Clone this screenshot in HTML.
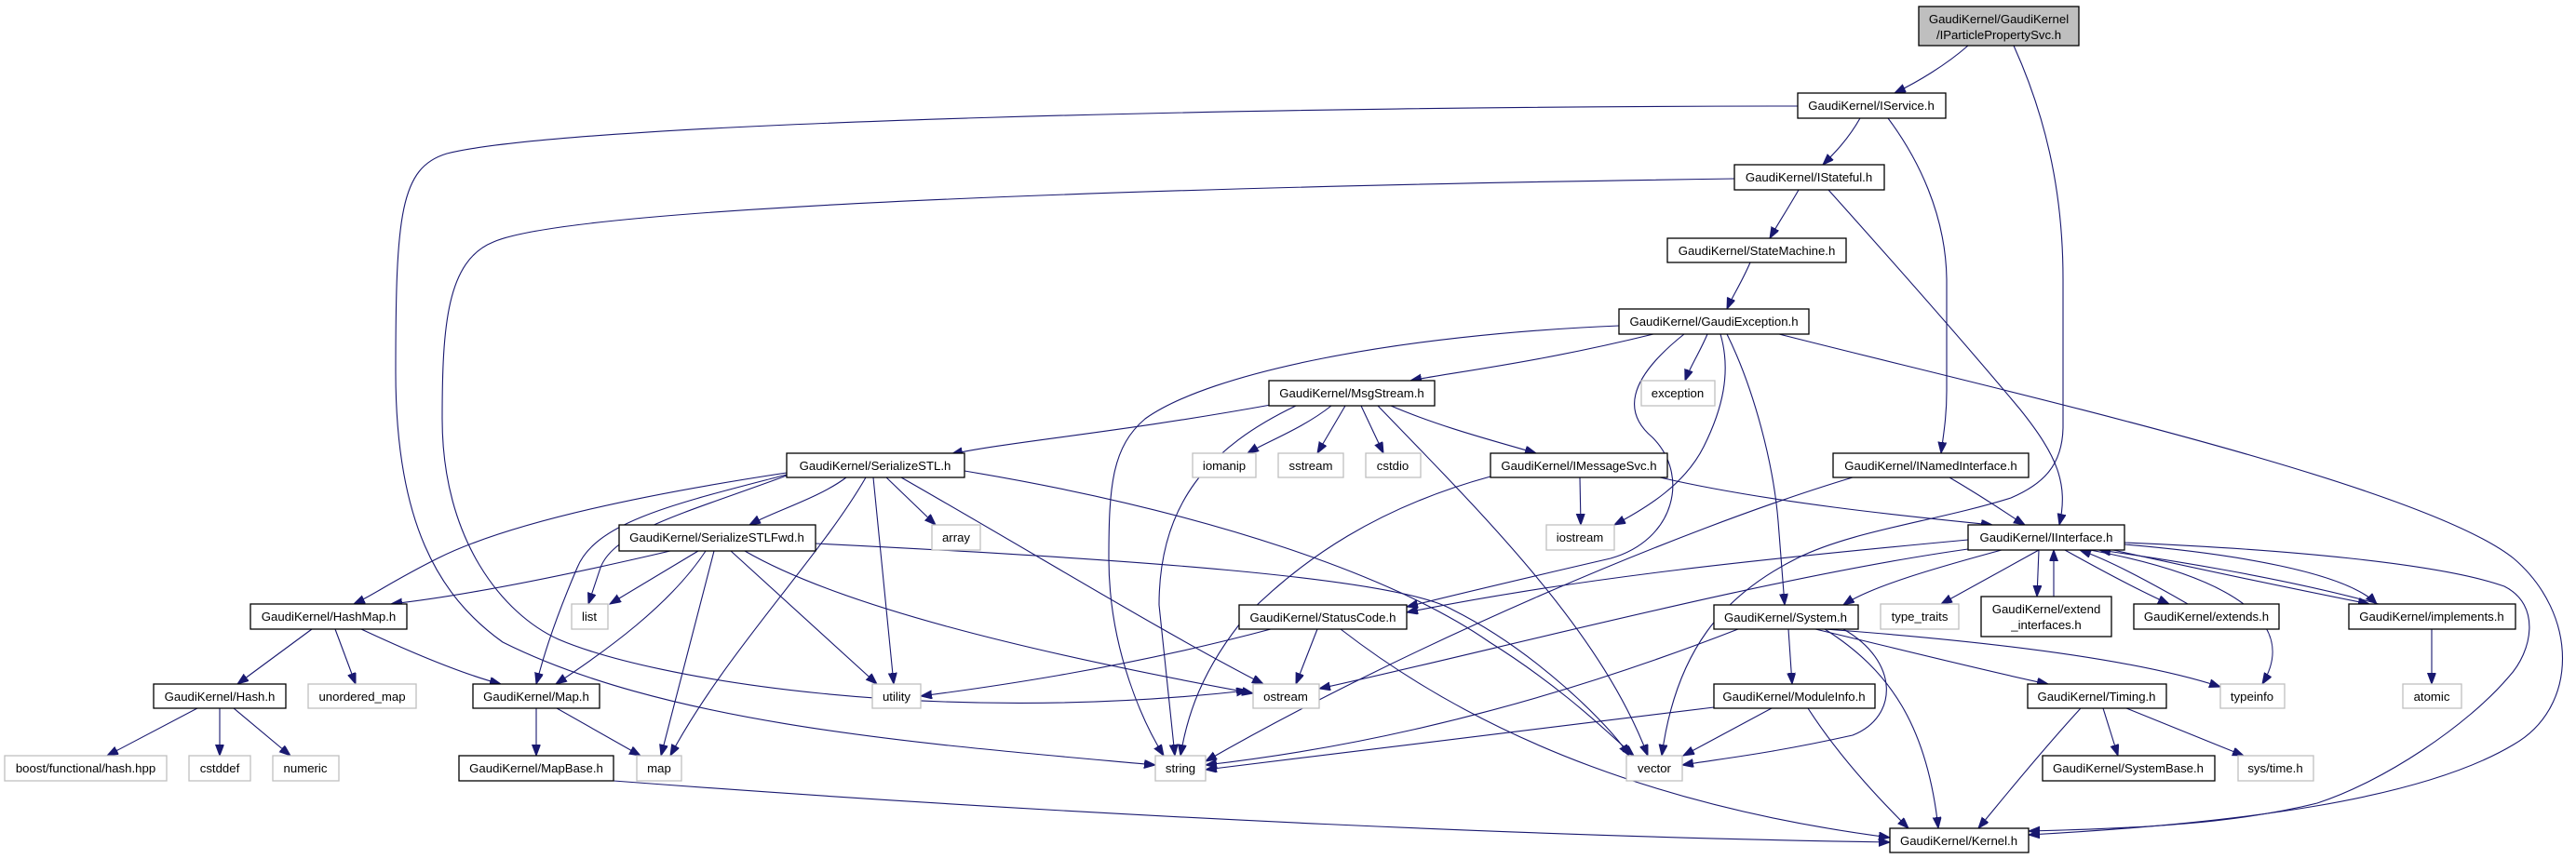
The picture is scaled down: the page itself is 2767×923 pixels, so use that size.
<!DOCTYPE html>
<html><head><meta charset="utf-8"><style>
html,body{margin:0;padding:0;background:#fff;}
svg{display:block;}
text{font-family:"Liberation Sans",Arial,sans-serif;font-size:13.2px;fill:#000;text-anchor:middle;}
.n{fill:#fff;stroke:#000;stroke-width:1.3;}
.g{fill:#fff;stroke:#bfbfbf;stroke-width:1.3;}
.e{fill:none;stroke:#191970;stroke-width:1.1;marker-end:url(#a);}
</style></head><body>
<svg width="2767" height="923" viewBox="0 0 2767 923" xmlns="http://www.w3.org/2000/svg">
<defs><marker id="a" markerUnits="userSpaceOnUse" markerWidth="13" markerHeight="10" refX="12" refY="4.5" orient="auto"><path d="M0,0 L12,4.5 L0,9 z" fill="#191970" stroke="#191970"/></marker></defs>
<g>
<path class="e" d="M2114,49 C2090,70 2060,88 2035,100"/>
<path class="e" d="M2163,49 C2195,120 2216,200 2216,300 L2216,460 C2215,500 2195,520 2160,535 C2080,560 1990,570 1930,600 C1850,640 1800,700 1785,812"/>
<path class="e" d="M1998,127 C1985,150 1970,165 1958,177"/>
<path class="e" d="M2028,127 C2060,170 2090,230 2091,300 L2091,420 C2091,450 2087,470 2085,487"/>
<path class="e" d="M1931,114 C1400,114 620,130 480,165 C430,180 425,230 425,400 C425,560 470,640 540,690 C720,780 1000,800 1241,822"/>
<path class="e" d="M1932,204 C1920,225 1910,240 1901,256"/>
<path class="e" d="M1964,204 C2050,300 2120,380 2170,440 C2210,490 2222,520 2212,564"/>
<path class="e" d="M1863,192 C1300,200 620,220 530,260 C480,280 475,350 475,450 C475,580 540,660 600,687 C700,730 1000,780 1340,742"/>
<path class="e" d="M1880,282 C1870,305 1860,320 1855,332"/>
<path class="e" d="M1739,350 C1500,360 1300,400 1230,450 C1195,480 1191,520 1191,600 C1191,700 1230,780 1250,812"/>
<path class="e" d="M1392,436 C1300,480 1245,540 1245,650 L1262,812"/>
<path class="e" d="M1776,359 C1650,390 1560,400 1515,409"/>
<path class="e" d="M1834,359 C1825,380 1815,395 1810,409"/>
<path class="e" d="M1809,359 C1745,410 1745,445 1775,470 C1815,510 1800,580 1730,600 C1600,630 1560,640 1511,652"/>
<path class="e" d="M1848,359 C1860,400 1850,440 1830,480 C1810,520 1770,545 1734,564"/>
<path class="e" d="M1855,359 C1885,420 1905,500 1910,560 L1917,650"/>
<path class="e" d="M1911,359 C2150,420 2600,520 2700,600 C2770,660 2770,760 2700,800 C2600,860 2400,885 2179,897"/>
<path class="e" d="M1365,435 C1200,465 1080,475 1022,488"/>
<path class="e" d="M1430,436 C1400,460 1360,475 1340,487"/>
<path class="e" d="M1445,436 L1415,487"/>
<path class="e" d="M1462,436 L1486,487"/>
<path class="e" d="M1494,436 C1550,460 1610,475 1650,487"/>
<path class="e" d="M1480,436 C1600,560 1720,680 1770,812"/>
<path class="e" d="M1697,513 L1698,564"/>
<path class="e" d="M1783,513 C1900,540 2050,555 2140,564"/>
<path class="e" d="M1601,512 C1480,545 1400,600 1340,660 C1290,720 1275,770 1268,812"/>
<path class="e" d="M909,513 C880,535 830,550 805,564"/>
<path class="e" d="M845,508 C700,530 550,560 470,600 C420,625 400,640 380,649"/>
<path class="e" d="M845,510 C730,540 640,560 620,610 C590,680 580,720 576,735"/>
<path class="e" d="M845,511 C740,550 660,570 645,610 L632,649"/>
<path class="e" d="M930,513 C880,600 780,700 720,812"/>
<path class="e" d="M938,513 L960,735"/>
<path class="e" d="M952,513 L1005,564"/>
<path class="e" d="M968,513 C1120,600 1250,680 1357,735"/>
<path class="e" d="M1036,506 C1300,550 1500,620 1600,690 C1680,740 1730,790 1755,812"/>
<path class="e" d="M720,592 C600,620 500,640 420,649"/>
<path class="e" d="M750,592 L655,649"/>
<path class="e" d="M758,592 C720,650 650,700 597,735"/>
<path class="e" d="M767,592 L710,812"/>
<path class="e" d="M785,592 L942,735"/>
<path class="e" d="M800,592 C900,650 1100,700 1346,745"/>
<path class="e" d="M876,584 C1200,600 1500,620 1560,655 C1650,700 1730,780 1750,812"/>
<path class="e" d="M335,676 L255,735"/>
<path class="e" d="M360,676 L382,735"/>
<path class="e" d="M388,676 C450,705 500,725 538,735"/>
<path class="e" d="M212,761 L115,812"/>
<path class="e" d="M236,761 L236,812"/>
<path class="e" d="M251,761 L312,812"/>
<path class="e" d="M576,761 L576,812"/>
<path class="e" d="M598,761 L688,812"/>
<path class="e" d="M659,839 C1200,880 1700,900 2030,905"/>
<path class="e" d="M2094,513 C2140,540 2160,555 2175,564"/>
<path class="e" d="M1990,513 C1800,570 1500,700 1295,818"/>
<path class="e" d="M2114,580 C1900,600 1700,620 1511,658"/>
<path class="e" d="M2150,591 C2080,610 2010,630 1980,650"/>
<path class="e" d="M2114,590 C1900,620 1600,700 1417,740"/>
<path class="e" d="M2190,591 L2085,649"/>
<path class="e" d="M2190,591 L2188,641"/>
<path class="e" d="M2206,641 L2206,591"/>
<path class="e" d="M2218,591 C2270,620 2310,640 2330,649"/>
<path class="e" d="M2350,649 C2300,620 2260,600 2234,591"/>
<path class="e" d="M2270,591 C2400,620 2500,640 2545,649"/>
<path class="e" d="M2555,649 C2450,620 2320,600 2255,591"/>
<path class="e" d="M2282,585 C2400,595 2520,615 2553,649"/>
<path class="e" d="M2245,591 C2400,620 2470,670 2430,735"/>
<path class="e" d="M2282,583 C2450,590 2620,605 2690,630 C2730,650 2720,700 2695,727 C2650,780 2560,840 2489,863 C2400,885 2300,890 2179,893"/>
<path class="e" d="M2612,676 L2612,735"/>
<path class="e" d="M1365,676 C1200,720 1050,740 989,748"/>
<path class="e" d="M1415,676 L1392,735"/>
<path class="e" d="M1440,676 C1600,800 1800,870 2030,900"/>
<path class="e" d="M1867,676 C1600,780 1400,810 1295,822"/>
<path class="e" d="M1980,676 C2040,710 2040,770 1990,790 C1900,810 1850,815 1807,822"/>
<path class="e" d="M1921,676 L1925,735"/>
<path class="e" d="M1950,676 C2050,700 2150,725 2200,735"/>
<path class="e" d="M1960,676 C2150,690 2300,710 2385,738"/>
<path class="e" d="M1960,676 C2030,720 2070,780 2082,890"/>
<path class="e" d="M1841,760 C1600,790 1400,815 1295,827"/>
<path class="e" d="M1903,761 L1808,812"/>
<path class="e" d="M1942,761 C1980,820 2030,870 2050,890"/>
<path class="e" d="M2259,761 L2275,812"/>
<path class="e" d="M2284,761 L2410,812"/>
<path class="e" d="M2235,761 C2190,810 2150,860 2125,890"/>
</g>
<g>
<rect x="2061" y="7" width="172" height="42" fill="#bfbfbf" stroke="#000" stroke-width="1.3"/>
<text x="2147" y="25">GaudiKernel/GaudiKernel</text><text x="2147" y="42">/IParticlePropertySvc.h</text>
<rect class="n" x="1931" y="100" width="159" height="27"/><text x="2010" y="118">GaudiKernel/IService.h</text>
<rect class="n" x="1863" y="177" width="161" height="27"/><text x="1943" y="195">GaudiKernel/IStateful.h</text>
<rect class="n" x="1791" y="256" width="192" height="26"/><text x="1887" y="274">GaudiKernel/StateMachine.h</text>
<rect class="n" x="1739" y="332" width="204" height="27"/><text x="1841" y="350">GaudiKernel/GaudiException.h</text>
<rect class="n" x="1363" y="409" width="178" height="27"/><text x="1452" y="427">GaudiKernel/MsgStream.h</text>
<rect class="g" x="1763" y="409" width="79" height="27"/><text x="1802" y="427">exception</text>
<rect class="g" x="1281" y="487" width="68" height="26"/><text x="1315" y="505">iomanip</text>
<rect class="g" x="1373" y="487" width="70" height="26"/><text x="1408" y="505">sstream</text>
<rect class="g" x="1467" y="487" width="59" height="26"/><text x="1496" y="505">cstdio</text>
<rect class="n" x="1601" y="487" width="190" height="26"/><text x="1696" y="505">GaudiKernel/IMessageSvc.h</text>
<rect class="n" x="845" y="487" width="191" height="26"/><text x="940" y="505">GaudiKernel/SerializeSTL.h</text>
<rect class="n" x="1969" y="487" width="210" height="26"/><text x="2074" y="505">GaudiKernel/INamedInterface.h</text>
<rect class="g" x="1001" y="564" width="52" height="27"/><text x="1027" y="582">array</text>
<rect class="g" x="1661" y="564" width="73" height="27"/><text x="1697" y="582">iostream</text>
<rect class="n" x="2114" y="564" width="168" height="27"/><text x="2198" y="582">GaudiKernel/IInterface.h</text>
<rect class="n" x="665" y="564" width="211" height="28"/><text x="770" y="582">GaudiKernel/SerializeSTLFwd.h</text>
<rect class="n" x="269" y="649" width="168" height="27"/><text x="353" y="667">GaudiKernel/HashMap.h</text>
<rect class="g" x="614" y="649" width="39" height="27"/><text x="633" y="667">list</text>
<rect class="n" x="1331" y="650" width="180" height="26"/><text x="1421" y="668">GaudiKernel/StatusCode.h</text>
<rect class="n" x="1841" y="650" width="155" height="26"/><text x="1918" y="668">GaudiKernel/System.h</text>
<rect class="g" x="2020" y="649" width="84" height="27"/><text x="2062" y="667">type_traits</text>
<rect class="n" x="2128" y="641" width="140" height="43"/><text x="2198" y="659">GaudiKernel/extend</text><text x="2198" y="676">_interfaces.h</text>
<rect class="n" x="2292" y="649" width="156" height="27"/><text x="2370" y="667">GaudiKernel/extends.h</text>
<rect class="n" x="2523" y="649" width="179" height="27"/><text x="2612" y="667">GaudiKernel/implements.h</text>
<rect class="n" x="165" y="735" width="142" height="26"/><text x="236" y="753">GaudiKernel/Hash.h</text>
<rect class="g" x="331" y="735" width="116" height="26"/><text x="389" y="753">unordered_map</text>
<rect class="n" x="508" y="735" width="136" height="26"/><text x="576" y="753">GaudiKernel/Map.h</text>
<rect class="g" x="937" y="735" width="52" height="26"/><text x="963" y="753">utility</text>
<rect class="g" x="1346" y="735" width="71" height="26"/><text x="1381" y="753">ostream</text>
<rect class="n" x="1841" y="735" width="173" height="26"/><text x="1927" y="753">GaudiKernel/ModuleInfo.h</text>
<rect class="n" x="2178" y="735" width="149" height="26"/><text x="2252" y="753">GaudiKernel/Timing.h</text>
<rect class="g" x="2385" y="735" width="69" height="26"/><text x="2419" y="753">typeinfo</text>
<rect class="g" x="2581" y="735" width="63" height="26"/><text x="2612" y="753">atomic</text>
<rect class="g" x="5" y="812" width="174" height="27"/><text x="92" y="830">boost/functional/hash.hpp</text>
<rect class="g" x="203" y="812" width="66" height="27"/><text x="236" y="830">cstddef</text>
<rect class="g" x="293" y="812" width="71" height="27"/><text x="328" y="830">numeric</text>
<rect class="n" x="493" y="812" width="166" height="27"/><text x="576" y="830">GaudiKernel/MapBase.h</text>
<rect class="g" x="684" y="812" width="48" height="27"/><text x="708" y="830">map</text>
<rect class="g" x="1241" y="812" width="54" height="27"/><text x="1268" y="830">string</text>
<rect class="g" x="1747" y="812" width="60" height="27"/><text x="1777" y="830">vector</text>
<rect class="n" x="2194" y="812" width="185" height="27"/><text x="2286" y="830">GaudiKernel/SystemBase.h</text>
<rect class="g" x="2404" y="812" width="81" height="27"/><text x="2444" y="830">sys/time.h</text>
<rect class="n" x="2030" y="890" width="149" height="26"/><text x="2104" y="908">GaudiKernel/Kernel.h</text>
</g>
</svg>
</body></html>
